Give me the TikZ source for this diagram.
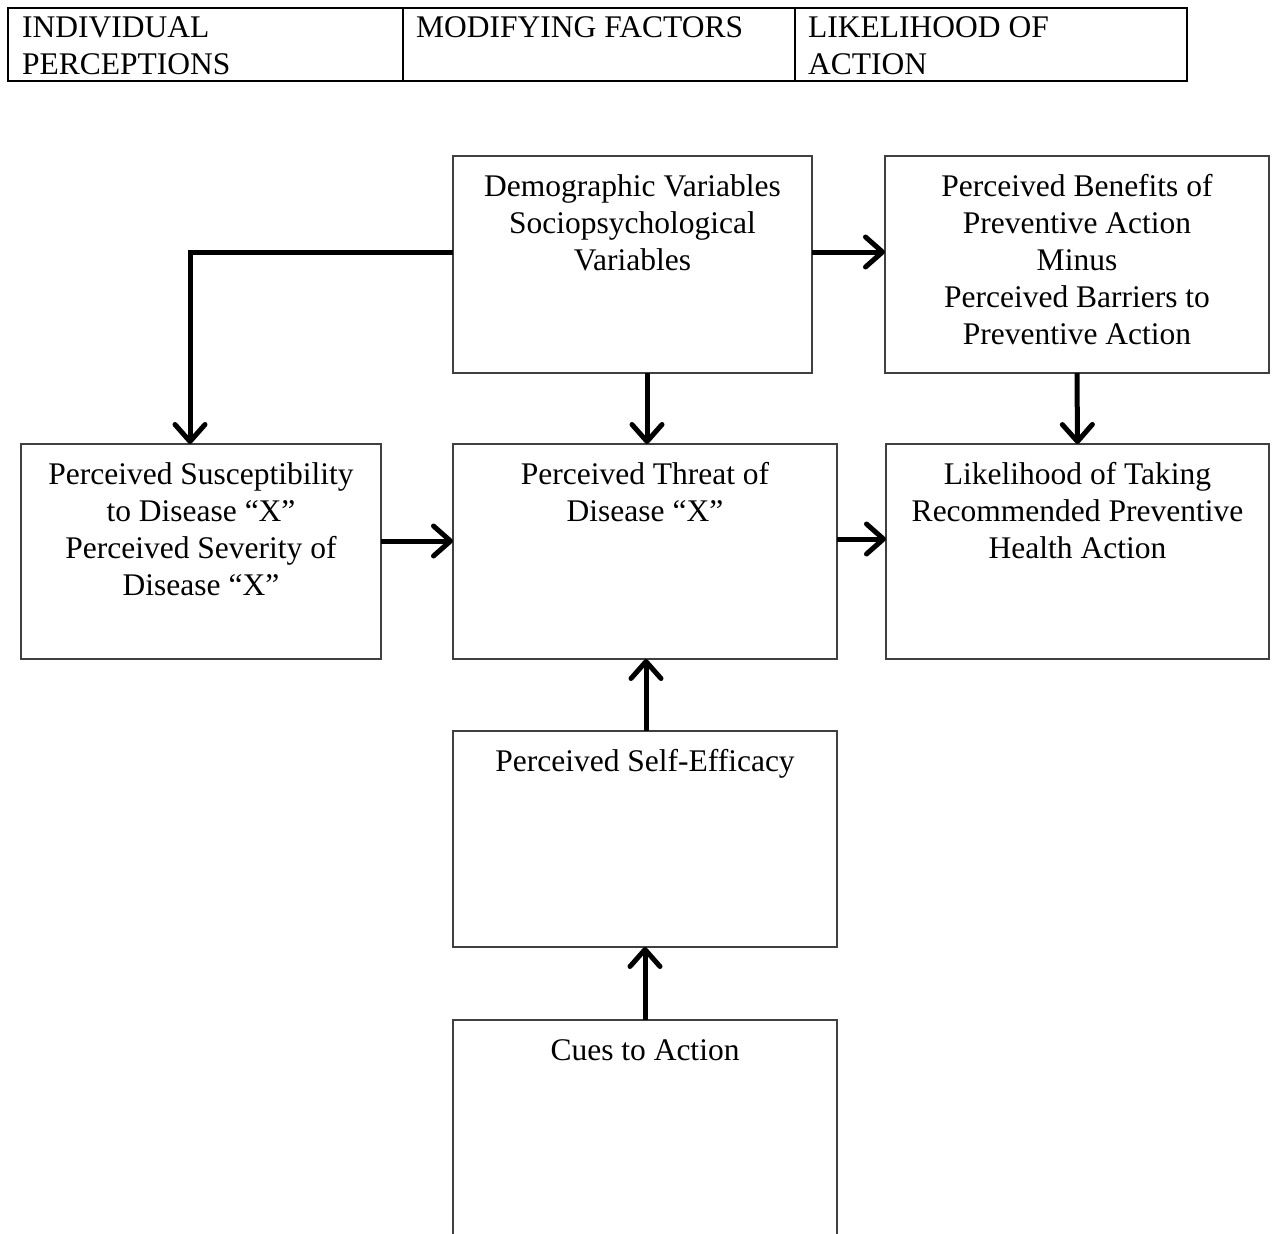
\documentclass[tikz,border=0pt]{standalone}
\usepackage{fontspec}
\setmainfont{Liberation Serif}
\usetikzlibrary{arrows.meta,calc}
\begin{document}
\begin{tikzpicture}[x=1pt,y=1pt,
  box/.style={draw=black!75, line width=1.8pt, rectangle, outer sep=0pt, inner sep=0pt},
  lbl/.style={anchor=north, inner sep=0pt, align=center, font=\fontsize{31.5}{37}\selectfont},
  hlbl/.style={anchor=north west, inner sep=0pt, align=left, font=\fontsize{31.5}{36.5}\selectfont},
  arr/.style={line width=5pt, -{Straight Barb[length=17pt,width=30pt,line cap=round,line join=round]}}
]
\useasboundingbox (0,0) rectangle (1275,-1234);
\clip (0,0) rectangle (1275,-1234);

% header table
\draw[line width=2.2pt] (8,-8) rectangle (1187,-81);
\draw[line width=1.8pt] (403,-8) -- (403,-81);
\draw[line width=1.8pt] (795,-8) -- (795,-81);
\node[hlbl] (h1) at (22,-12) {\strut INDIVIDUAL\\PERCEPTIONS};
\node[hlbl] (h2) at (416,-12) {\strut MODIFYING FACTORS};
\node[hlbl] (h3) at (808,-12) {\strut LIKELIHOOD OF\\ACTION};

% boxes
\node[box, minimum width=359, minimum height=217] (demo) at (632.5,-264.5) {};
\node[box, minimum width=384, minimum height=217] (ben) at (1077,-264.5) {};
\node[box, minimum width=360, minimum height=215] (sus) at (201,-551.5) {};
\node[box, minimum width=384, minimum height=215] (thr) at (645,-551.5) {};
\node[box, minimum width=383, minimum height=215] (lik) at (1077.5,-551.5) {};
\node[box, minimum width=384, minimum height=216] (eff) at (645,-839) {};
\node[box, minimum width=384, minimum height=240] (cue) at (645,-1140) {};

% texts
\node[lbl] (demoT) at ([yshift=-14]demo.north) {\strut Demographic Variables\\Sociopsychological\\Variables};
\node[lbl] (benT) at ([yshift=-14]ben.north) {\strut Perceived Benefits of\\Preventive Action\\Minus\\Perceived Barriers to\\Preventive Action};
\node[lbl] (susT) at ([yshift=-14]sus.north) {\strut Perceived Susceptibility\\to Disease “X”\\Perceived Severity of\\Disease “X”};
\node[lbl] (thrT) at ([yshift=-14]thr.north) {\strut Perceived Threat of\\Disease “X”};
\node[lbl] (likT) at ([yshift=-14]lik.north) {\strut Likelihood of Taking\\Recommended Preventive\\Health Action};
\node[lbl] (effT) at ([yshift=-14]eff.north) {\strut Perceived Self-Efficacy};
\node[lbl] (cueT) at ([yshift=-14]cue.north) {\strut Cues to Action};

% connectors
\draw[arr, line join=miter] ([yshift=12.5]demo.west) -| ([xshift=-11]sus.north);
\draw[arr] ([xshift=2]thr.north |- demo.south) -- ([xshift=2]thr.north);
\draw[arr] ([yshift=12.5]demo.east) -- ([yshift=12.5]ben.west);
\draw[arr] (ben.south) -- (lik.north);
\draw[arr] ([yshift=10.5]sus.east) -- ([yshift=10.5]thr.west);
\draw[arr] ([yshift=12.5]thr.east) -- ([yshift=12.5]lik.west);
\draw[arr] ([xshift=1]eff.north) -- ([xshift=1]thr.south);
\draw[arr] (cue.north) -- (eff.south);
\end{tikzpicture}
\end{document}
